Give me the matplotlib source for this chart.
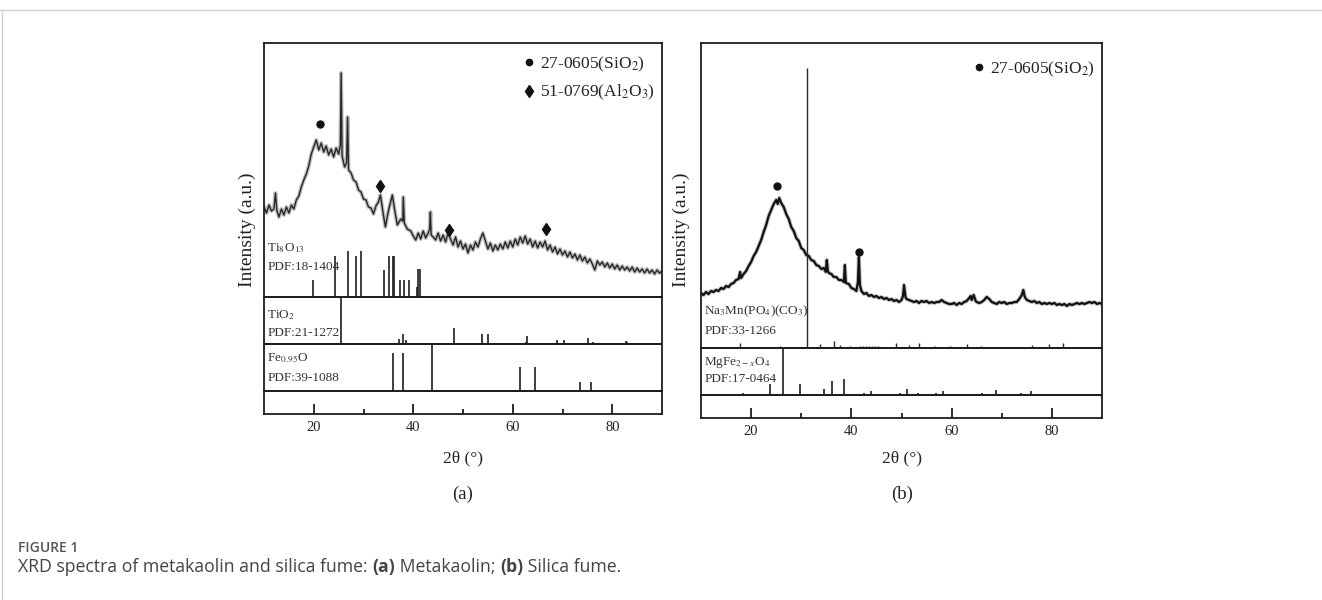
import matplotlib
matplotlib.use("Agg")
import matplotlib.pyplot as plt
from matplotlib.lines import Line2D

plt.rcParams['font.family'] = ['Liberation Serif', 'DejaVu Serif']
plt.rcParams['mathtext.fontset'] = 'stix'

W, H = 1322, 600

# === DATOS (a) METACAOLIN ===
tth_a = [10.0, 10.5, 11.0, 11.5, 12.0, 12.3, 12.6, 13.0, 13.5, 14.0, 14.5, 15.0, 15.5, 16.0,
         16.5, 17.0, 17.5, 18.0, 18.5, 19.0, 19.5, 20.0, 20.5, 21.0, 21.5, 22.0, 22.5, 23.0,
         23.5, 24.0, 24.5, 25.0, 25.35, 25.5, 25.7, 26.2, 26.6, 26.8, 27.0, 27.5, 28.0, 28.5,
         29.0, 29.5, 30.0, 30.5, 31.0, 31.5, 32.0, 32.5, 33.0, 33.4, 34.0, 34.4, 35.0, 35.8,
         36.3, 36.8, 37.5, 37.9, 38.0, 38.2, 38.8, 39.5, 40.0, 40.5, 41.0, 41.5, 42.0, 42.5,
         43.0, 43.3, 43.45, 43.6, 44.0, 44.5, 45.0, 45.5, 46.0, 46.5, 47.0, 47.5, 48.0, 48.5,
         49.0, 49.5, 50.0, 50.5, 51.0, 51.5, 52.0, 52.5, 53.0, 53.5, 54.0, 54.5, 55.0, 55.5,
         56.0, 56.5, 57.0, 57.5, 58.0, 58.5, 59.0, 59.5, 60.0, 60.5, 61.0, 61.5, 62.0, 62.5,
         63.0, 63.5, 64.0, 64.5, 65.0, 65.5, 66.0, 66.5, 67.0, 67.5, 68.0, 68.5, 69.0, 69.5,
         70.0, 70.5, 71.0, 71.5, 72.0, 72.5, 73.0, 73.5, 74.0, 74.5, 75.0, 75.5, 76.0, 76.5,
         77.0, 77.5, 78.0, 78.5, 79.0, 79.5, 80.0, 80.5, 81.0, 81.5, 82.0, 82.5, 83.0, 83.5,
         84.0, 84.5, 85.0, 85.5, 86.0, 86.5, 87.0, 87.5, 88.0, 88.5, 89.0, 89.5, 90.0]
int_a = [90, 84, 92, 86, 88, 104, 86, 80, 88, 82, 90, 84, 92, 88,
         97, 101, 110, 117, 123, 131, 143, 150, 157, 147, 154, 145, 151, 142,
         148, 140, 149, 143, 152, 224, 141, 130, 134, 180, 127, 124, 117, 115,
         107, 105, 98, 97, 90, 89, 83, 91, 95, 102, 82, 70, 86, 102,
         86, 72, 78, 76, 100, 74, 68, 66, 61, 57, 64, 58, 66, 59,
         64, 68, 85, 62, 60, 57, 64, 56, 62, 55, 64, 58, 52, 60,
         50, 56, 48, 53, 44, 52, 47, 55, 50, 58, 64, 56, 48, 54,
         46, 52, 47, 53, 48, 55, 49, 56, 50, 58, 52, 60, 54, 61,
         53, 58, 50, 56, 49, 55, 50, 56, 47, 52, 45, 50, 43, 48,
         42, 46, 40, 45, 39, 43, 37, 42, 36, 40, 34, 38, 33, 27,
         36, 32, 35, 30, 34, 29, 33, 28, 32, 27, 31, 27, 30, 26,
         30, 25, 29, 25, 28, 24, 28, 24, 27, 23, 27, 24, 26]

circ_a = [(21.3, 173)]
diam_a = [(33.4, 111), (47.2, 67), (66.6, 68)]

ti8_pos = [19.9, 24.3, 26.8, 28.5, 29.5, 34.2, 35.2, 35.9, 36.2, 37.4, 38.1, 39.2, 40.8, 41.0, 41.4]
ti8_h = [17, 41, 46, 41, 46, 27, 41, 41, 41, 17, 17, 17, 10, 28, 28]

tio2_pos = [25.5, 37.1, 37.9, 38.6, 48.1, 53.9, 55.1, 62.6, 62.9, 68.9, 70.3, 75.1, 76.1, 82.7, 83.0]
tio2_h = [47, 5, 10, 4, 16, 10, 10, 2, 8, 4, 4, 6, 2, 3, 2]

fe_pos = [35.9, 38.0, 43.7, 61.5, 64.4, 73.5, 75.7]
fe_h = [38, 38, 47, 24, 24, 9, 9]

# === DATOS (b) HUMO DE SILICE ===
tth_b = [10.0, 10.5, 11.0, 11.5, 12.0, 12.5, 13.0, 13.5, 14.0, 14.5, 15.0, 15.5, 16.0, 16.5,
         17.0, 17.5, 17.8, 18.0, 18.5, 19.0, 19.5, 20.0, 20.5, 21.0, 21.5, 22.0, 22.5, 23.0,
         23.5, 24.0, 24.5, 25.0, 25.3, 25.6, 26.0, 26.5, 27.0, 27.5, 28.0, 28.5, 29.0, 29.5,
         30.0, 30.5, 31.0, 31.5, 32.0, 32.5, 33.0, 33.5, 34.0, 34.5, 34.9, 35.1, 35.3, 35.5,
         36.0, 36.5, 37.0, 37.5, 38.0, 38.5, 38.7, 38.9, 39.5, 40.0, 40.5, 41.0, 41.3, 41.5,
         41.7, 42.0, 42.5, 43.0, 43.5, 44.0, 44.5, 45.0, 45.5, 46.0, 46.5, 47.0, 47.5, 48.0,
         48.5, 49.0, 49.5, 50.0, 50.3, 50.5, 50.8, 51.0, 51.5, 52.0, 52.5, 53.0, 53.5, 54.0,
         54.5, 55.0, 55.5, 56.0, 56.5, 57.0, 57.5, 58.0, 58.5, 59.0, 59.5, 60.0, 60.5, 61.0,
         61.5, 62.0, 62.5, 63.0, 63.5, 63.8, 64.0, 64.4, 64.8, 65.0, 65.5, 66.0, 66.5, 67.0,
         67.5, 68.0, 68.5, 69.0, 69.5, 70.0, 70.5, 71.0, 71.5, 72.0, 72.5, 73.0, 73.5, 74.0,
         74.3, 74.6, 75.0, 75.5, 76.0, 76.5, 77.0, 77.5, 78.0, 78.5, 79.0, 79.5, 80.0, 80.5,
         81.0, 81.5, 82.0, 82.5, 83.0, 83.5, 84.0, 84.5, 85.0, 85.5, 86.0, 86.5, 87.0, 87.5,
         88.0, 88.5, 89.0, 89.5, 90.0]
int_b = [55, 53, 56, 54, 57, 56, 58, 57, 60, 59, 62, 61, 64, 65,
         68, 69, 76, 70, 74, 77, 82, 86, 92, 96, 102, 108, 116, 123,
         132, 138, 144, 148, 144, 150, 145, 141, 134, 129, 121, 117, 110, 107,
         100, 98, 93, 92, 88, 87, 83, 82, 79, 80, 76, 88, 77, 75,
         74, 71, 71, 68, 68, 66, 83, 65, 64, 60, 59, 57, 66, 91,
         63, 57, 54, 55, 52, 53, 51, 52, 50, 51, 49, 50, 48, 49,
         47, 48, 46, 48, 52, 63, 51, 49, 48, 47, 46, 47, 45, 47,
         46, 47, 45, 46, 45, 46, 46, 48, 46, 45, 44, 44, 45, 43,
         45, 44, 46, 47, 50, 52, 48, 53, 47, 46, 45, 46, 48, 51,
         49, 46, 45, 44, 46, 45, 46, 44, 45, 45, 46, 46, 49, 53,
         58, 51, 48, 47, 46, 47, 45, 46, 44, 45, 44, 45, 44, 45,
         43, 44, 43, 44, 42, 44, 43, 44, 45, 44, 45, 44, 45, 46,
         45, 46, 44, 45, 44]

circ_b = [(25.1, 162), (41.5, 96)]

na_pos = [17.8, 25.8, 31.1, 33.8, 36.6, 37.7, 39.7, 41.7, 42.3, 42.9, 43.5, 44.1, 44.7, 45.3,
          48.9, 51.4, 53.4, 56.6, 59.6, 63.1, 65.8, 76.1, 79.4, 82.3]
na_h = [5, 2.5, 280, 4, 7.5, 3, 2, 2.5, 2, 2.5, 2, 2.5, 2, 2.5,
        5, 3, 5, 2, 2, 4, 2, 3, 4, 5]

mg_pos = [18.3, 23.7, 26.3, 29.7, 34.6, 36.1, 38.6, 42.5, 43.9, 46.5, 49.7, 51.1, 53.3, 56.8,
          58.3, 60.8, 66.1, 68.8, 73.8, 75.8]
mg_h = [2, 11, 47, 11.5, 6, 14, 16.5, 2.5, 4, 1.5, 2.5, 6, 2.5, 2,
        4, 1.5, 2.5, 5, 2, 4]

ticks_may = [20, 40, 60, 80]
ticks_men = [30, 50, 70]

SPINE = '#1c1c1c'
TXT = '#222222'


# === FUNCIONES ===
def apilar_ejes(fig, izq, der, filas):
    ejes = []
    for arriba, abajo in zip(filas[:-1], filas[1:]):
        ax = fig.add_axes([izq / W, 1 - abajo / H, (der - izq) / W, (abajo - arriba) / H])
        ax.set_xlim(10, 90)
        ax.set_ylim(0, abajo - arriba)
        ax.set_xticks([])
        ax.set_yticks([])
        for s in ax.spines.values():
            s.set_linewidth(1.3)
            s.set_color(SPINE)
        ax.patch.set_alpha(0)
        ejes.append(ax)
    # tira inferior con las marcas
    ax = ejes[-1]
    ax.set_xticks(ticks_may)
    ax.set_xticks(ticks_men, minor=True)
    ax.tick_params(axis='x', which='major', direction='in', length=7, width=1.3,
                   labelsize=10.5, pad=5, colors=SPINE, labelcolor=TXT)
    ax.tick_params(axis='x', which='minor', direction='in', length=3.5, width=1.3, colors=SPINE)
    return ejes


def etiqueta(ax, fila1, fila2, y1, y2):
    ax.text(0.008, y1, fila1, transform=ax.transAxes, fontsize=9.5, color='#333333', va='center')
    ax.text(0.008, y2, fila2, transform=ax.transAxes, fontsize=9.5, color='#333333', va='center')


def leyenda(ax, textos, marcas, x, y):
    hs = []
    for m, ms in marcas:
        hs.append(Line2D([], [], marker=m, ls='none', color='#111111', ms=ms))
    ax.legend(hs, textos, loc='upper right', bbox_to_anchor=(x, y), frameon=False,
              fontsize=12.5, handlelength=0.6, handletextpad=0.3, labelspacing=0.55,
              borderpad=0, borderaxespad=0, labelcolor=TXT)


fig = plt.figure(figsize=(W / 100, H / 100), dpi=100)

# marco de la pagina
fig.add_artist(Line2D([0, 1], [1 - 10 / H, 1 - 10 / H], color='#cfcfcf', lw=1))
fig.add_artist(Line2D([1.5 / W, 1.5 / W], [0, 1 - 10 / H], color='#cfcfcf', lw=1))

# === PANEL (a) ===
ax_main, ax_tio2, ax_fe, ax_tick = apilar_ejes(fig, 264, 662, [43, 297, 344, 391, 414])

ax_main.plot(tth_a, int_a, color='#7a7a7a', lw=2.8, alpha=0.5)
ax_main.plot(tth_a, int_a, color='#262626', lw=1.0)
ax_main.plot([p[0] for p in circ_a], [p[1] for p in circ_a], 'o', color='#111111', ms=5)
ax_main.plot([p[0] for p in diam_a], [p[1] for p in diam_a], 'd', color='#111111', ms=6.5)
ax_main.vlines(ti8_pos, 0, ti8_h, color='#1e1e1e', lw=1.2)
etiqueta(ax_main, r'Ti$_8$O$_{13}$', 'PDF:18-1404', 0.193, 0.118)
leyenda(ax_main, [r'27-0605(SiO$_2$)', r'51-0769(Al$_2$O$_3$)'], [('o', 4.5), ('d', 6)], 0.982, 0.955)

ax_tio2.vlines(tio2_pos, 0, tio2_h, color='#1e1e1e', lw=1.2)
etiqueta(ax_tio2, r'TiO$_2$', 'PDF:21-1272', 0.62, 0.235)

ax_fe.vlines(fe_pos, 0, fe_h, color='#1e1e1e', lw=1.2)
etiqueta(ax_fe, r'Fe$_{0.95}$O', 'PDF:39-1088', 0.70, 0.28)

fig.text(247 / W, 1 - 230 / H, 'Intensity (a.u.)', rotation=90, fontsize=14, color=TXT,
         ha='center', va='center')
fig.text(463 / W, 1 - 458 / H, '2θ (°)', fontsize=12.5, color=TXT, ha='center', va='center')
fig.text(463 / W, 1 - 494 / H, '(a)', fontsize=13.5, color=TXT, ha='center', va='center')

# === PANEL (b) ===
bx_main, bx_mg, bx_tick = apilar_ejes(fig, 701, 1102, [43, 348, 395, 418])

bx_main.plot(tth_b, int_b, color='#8a8a8a', lw=3.0, alpha=0.5)
bx_main.plot(tth_b, int_b, color='#111111', lw=1.6)
bx_main.plot([p[0] for p in circ_b], [p[1] for p in circ_b], 'o', color='#111111', ms=5)
bx_main.vlines(na_pos, 0, na_h, color='#2a2a2a', lw=1.0)
etiqueta(bx_main, r'Na$_3$Mn(PO$_4$)(CO$_3$)', 'PDF:33-1266', 0.121, 0.056)
leyenda(bx_main, [r'27-0605(SiO$_2$)'], [('o', 4.5)], 0.982, 0.945)

bx_mg.vlines(mg_pos, 0, mg_h, color='#1e1e1e', lw=1.2)
etiqueta(bx_mg, r'MgFe$_{2-x}$O$_4$', 'PDF:17-0464', 0.70, 0.33)

fig.text(681 / W, 1 - 230 / H, 'Intensity (a.u.)', rotation=90, fontsize=14, color=TXT,
         ha='center', va='center')
fig.text(902 / W, 1 - 458 / H, '2θ (°)', fontsize=12.5, color=TXT, ha='center', va='center')
fig.text(902 / W, 1 - 494 / H, '(b)', fontsize=13.5, color=TXT, ha='center', va='center')

# === PIE DE FIGURA ===
fig.text(18 / W, 1 - 548 / H, 'FIGURE 1', fontsize=10, color='#555555', family='Open Sans',
         weight='semibold', va='center')

partes = [('XRD spectra of metakaolin and silica fume: ', 'normal'), ('(a)', 'bold'),
          (' Metakaolin; ', 'normal'), ('(b)', 'bold'), (' Silica fume.', 'normal')]
r = fig.canvas.get_renderer()
x = 18 / W
for s, w in partes:
    t = fig.text(x, 1 - 567 / H, s, fontsize=12.7, color='#444444', family='Open Sans',
                 weight=w, va='center')
    x += t.get_window_extent(renderer=r).width / W

fig.savefig('out.png', dpi=100)
